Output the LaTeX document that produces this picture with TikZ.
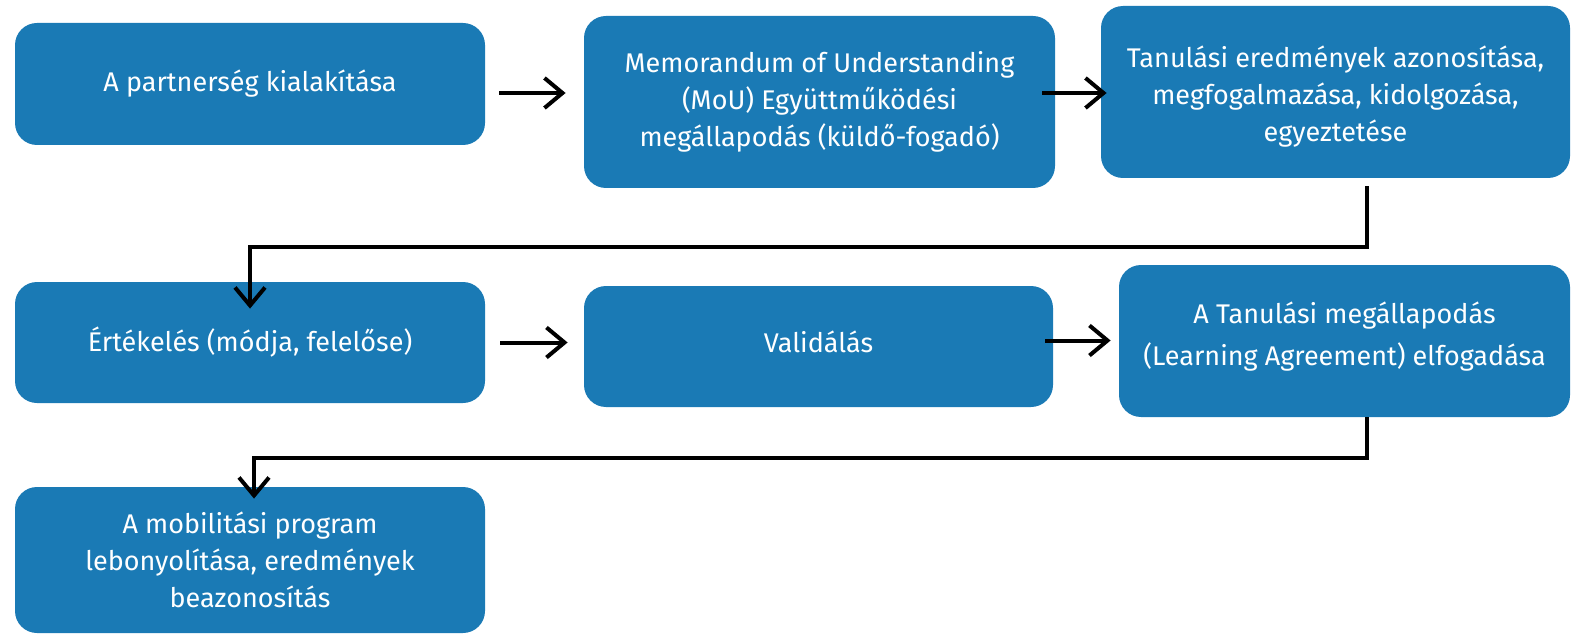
\documentclass[tikz,border=0pt]{standalone}
\usepackage{fontspec}
\setmainfont{Fira Sans}
\usepackage{xcolor}
\usepackage{tikz}
\usetikzlibrary{arrows.meta, positioning, calc}
\definecolor{flowblue}{HTML}{1A7AB5}

\begin{document}
\begin{tikzpicture}[x=0.5pt, y=-0.5pt,
  flowbox/.style={fill=flowblue, text=white, rounded corners=11pt, align=center, inner sep=0pt,
    font=\fontsize{13.5}{18.5}\selectfont},
  link/.style={line width=2pt, -{Straight Barb[length=9pt, width=15pt]}}]
  \useasboundingbox (0,0) rectangle (1572,636);
  % First row
  \node[flowbox, minimum width=235pt, minimum height=61pt] (partner) at (250,84) {A partnerség kialakítása};
  \node[flowbox, minimum width=235.5pt, minimum height=86pt] (mou) at (819.5,102)
    {Memorandum of Understanding\\(MoU) Együttműködési\\megállapodás (küldő-fogadó)};
  \node[flowbox, minimum width=234.5pt, minimum height=86pt] (outcomes) at (1335.5,92)
    {\raisebox{-2.5pt}[\height][\depth]{\begin{tabular}{@{}c@{}}Tanulási eredmények azonosítása,\\megfogalmazása, kidolgozása,\\egyeztetése\end{tabular}}};
  % Second row
  \node[flowbox, minimum width=235pt, minimum height=60.5pt] (assess) at (250,342.5) {Értékelés (módja, felelőse)};
  \node[flowbox, minimum width=234.5pt, minimum height=60.5pt] (valid) at (818.5,346.5)
    {\raisebox{2.5pt}[\height][\depth]{Validálás}};
  \node[flowbox, minimum width=225.5pt, minimum height=76pt] (agree) at (1344.5,341)
    {\raisebox{2pt}[\height][\depth]{\begin{tabular}{@{}c@{}}A Tanulási megállapodás\\[2.5pt](Learning Agreement) elfogadása\end{tabular}}};
  % Third row
  \node[flowbox, minimum width=235pt, minimum height=73pt] (mobility) at (250,560)
    {A mobilitási program\\lebonyolítása, eredmények\\beazonosítás};
  % Arrows
  \draw[link, shorten <=7pt, shorten >=9pt] ([yshift=-4.5pt]partner.east) -- ([yshift=-4.5pt]partner.east -| mou.west);
  \draw[link, shorten <=-6.5pt, shorten >=-3pt] ([yshift=4.5pt]mou.east) -- ([yshift=4.5pt]mou.east -| outcomes.west);
  \draw[link, shorten <=4pt, shorten >=-13.5pt] ([xshift=15.75pt]outcomes.south) |- ([yshift=17.5pt]assess.north) -- (assess.north);
  \draw[link, shorten <=7.5pt, shorten >=8pt] (assess.east) -- (assess.east -| valid.west);
  \draw[link, shorten <=-4pt, shorten >=4pt] ([yshift=3pt]valid.east) -- ([yshift=3pt]valid.east -| agree.west);
  \draw[link, shorten >=-6pt] ([xshift=11.25pt]agree.south) |- ([xshift=2pt,yshift=14.5pt]mobility.north) -- ([xshift=2pt]mobility.north);
\end{tikzpicture}
\end{document}
